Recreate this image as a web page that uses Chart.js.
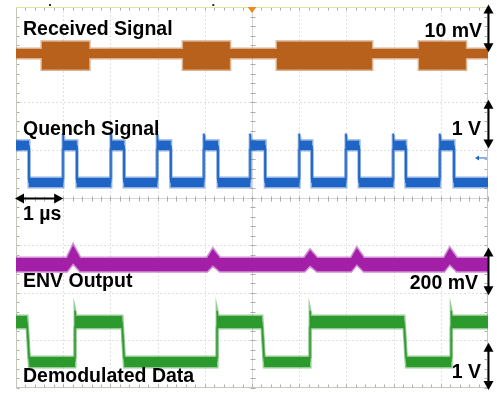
<!DOCTYPE html>
<html>
<head>
<meta charset="utf-8">
<script src="https://cdn.jsdelivr.net/npm/chart.js@4.4.1/dist/chart.umd.min.js"></script>
<style>
  html, body { margin: 0; padding: 0; background: #fff; }
  #wrap { width: 497px; height: 395px; position: relative; }
</style>
</head>
<body>
<div id="wrap"><canvas id="scope"></canvas></div>
<script>
// x: time in us (10 div of 1 us), y: screen divisions (0 = bottom, 8 = top)

// Received Signal (orange), state 1 = carrier burst
const rxEdges = [0, 0.55, 1.55, 3.54, 4.53, 5.53, 7.54, 8.54, 9.53, 10]
const rxState = [0, 1, 0, 1, 0, 1, 0, 1, 0]
const rxTop = [7.12, 7.27] // [quiet, burst]
const rxBot = [6.93, 6.69]

// Quench Signal (blue), state 1 = high
const qEdges = [0, 0.275, 0.996, 1.29, 2.01, 2.29, 2.99, 3.28, 3.98, 4.28, 4.96, 5.28, 6.0, 6.27, 6.99, 7.27, 7.99, 8.26, 8.98, 9.28, 10]
const qState = [1, 0, 1, 0, 1, 0, 1, 0, 1, 0, 1, 0, 1, 0, 1, 0, 1, 0, 1, 0]
const qTop = [4.41, 5.19]
const qMid = [4.31, 5.09]
const qBot = [4.22, 5.0]
const qSpike = 5.34

// ENV Output (magenta)
const envT =   [0, 1.08, 1.21, 1.36, 4.05, 4.17, 4.32, 6.11, 6.23, 6.38, 7.1, 7.22, 7.37, 9.07, 9.19, 9.34, 10]
const envTop = [2.73, 2.73, 3.0, 2.73, 2.73, 2.92, 2.73, 2.73, 2.9, 2.73, 2.73, 2.94, 2.73, 2.73, 2.94, 2.73, 2.73]
const envBot = [2.45, 2.45, 2.62, 2.45, 2.45, 2.58, 2.45, 2.45, 2.57, 2.45, 2.45, 2.6, 2.45, 2.45, 2.6, 2.45, 2.45]

// Demodulated Data (green), state 1 = high
const dEdges = [0, 0.233, 1.25, 2.246, 4.26, 5.21, 6.23, 8.22, 9.22, 10]
const dState = [1, 0, 1, 0, 1, 0, 1, 0, 1]
const dTop = [0.65, 1.51]
const dMid = [0.55, 1.39]
const dBot = [0.44, 1.26]
const dSpike = 1.62

const ORANGE = '#b8611c'
const BLUE = '#1f65c6'
const MAGENTA = '#a41fa8'
const GREEN = '#2c9a2c'

function fade(hex, a) {
  const n = parseInt(hex.slice(1), 16)
  return 'rgba(' + (n >> 16) + ',' + ((n >> 8) & 255) + ',' + (n & 255) + ',' + a + ')'
}

// step trace from edges/states; spike = overshoot on rising edge, fall = falling edge duration
function stepTrace(edges, state, levels, opt) {
  opt = opt || {}
  const pts = []
  const sw = 0.025
  for (let i = 0; i < state.length; i++) {
    const s = state[i]
    const v = levels[s]
    const t0 = edges[i]
    const t1 = edges[i + 1]
    const rising = i > 0 && s === 1 && state[i - 1] === 0
    const falling = i > 0 && s === 0 && state[i - 1] === 1
    if (rising && opt.spikeX) {
      pts.push({ x: t0, y: opt.spike != null ? opt.spike : v })
      pts.push({ x: t0 + sw, y: v })
    } else if (falling && opt.fall) {
      pts.push({ x: t0 + opt.fall, y: v })
    } else {
      pts.push({ x: t0, y: v })
    }
    pts.push({ x: t1, y: v })
  }
  return pts
}

// noisy trace drawn as a filled band with soft edges, plus a thin centre line for the edges
function band(label, color, top, bot, mid) {
  const sets = [
    { label: label + ' top', data: top, borderColor: fade(color, 0.5), borderWidth: 3, fill: false },
    { label: label + ' bottom', data: bot, borderColor: fade(color, 0.5), borderWidth: 3, backgroundColor: color, fill: '-1' },
  ]
  if (mid) sets.push({ label: label, data: mid, borderColor: color, borderWidth: 1, fill: false })
  return sets
}

const datasets = [
  ...band('Received Signal', ORANGE,
    stepTrace(rxEdges, rxState, rxTop),
    stepTrace(rxEdges, rxState, rxBot)),
  ...band('Quench Signal', BLUE,
    stepTrace(qEdges, qState, qTop, { spikeX: true, spike: qSpike }),
    stepTrace(qEdges, qState, qBot, { spikeX: true }),
    stepTrace(qEdges, qState, qMid, { spikeX: true, spike: qSpike })),
  ...band('ENV Output', MAGENTA,
    envT.map((t, i) => ({ x: t, y: envTop[i] })),
    envT.map((t, i) => ({ x: t, y: envBot[i] }))),
  ...band('Demodulated Data', GREEN,
    stepTrace(dEdges, dState, dTop, { spikeX: true, spike: dSpike, fall: 0.05 }),
    stepTrace(dEdges, dState, dBot, { spikeX: true, fall: 0.05 }),
    stepTrace(dEdges, dState, dMid, { spikeX: true, spike: dSpike, fall: 0.05 })),
]

function seg(ctx, x1, y1, x2, y2) {
  ctx.beginPath()
  ctx.moveTo(x1, y1)
  ctx.lineTo(x2, y2)
  ctx.stroke()
}

const scopeGrid = {
  id: 'scopeGrid',
  beforeDatasetsDraw(chart) {
    const { ctx, chartArea: a, scales: { x, y } } = chart
    const L = a.left + 0.5, R = a.right - 0.5, T = a.top + 0.5, B = a.bottom - 0.5
    ctx.save()
    ctx.lineWidth = 1
    // dotted division lines
    ctx.strokeStyle = '#c2c2c2'
    ctx.setLineDash([1, 3])
    for (let i = 1; i < 10; i++) {
      if (i === 5) continue
      const px = Math.round(x.getPixelForValue(i)) + 0.5
      seg(ctx, px, T, px, B)
    }
    for (let j = 1; j < 8; j++) {
      if (j === 4) continue
      const py = Math.round(y.getPixelForValue(j)) + 0.5
      seg(ctx, L, py, R, py)
    }
    // center lines with minor ticks
    ctx.strokeStyle = '#ababab'
    ctx.setLineDash([1, 1])
    const cx = Math.round(x.getPixelForValue(5)) + 0.5
    const cy = Math.round(y.getPixelForValue(4)) + 0.5
    seg(ctx, cx, T, cx, B)
    seg(ctx, L, cy, R, cy)
    ctx.setLineDash([])
    for (let k = 0; k <= 50; k++) {
      const px = Math.round(x.getPixelForValue(k / 5)) + 0.5
      seg(ctx, px, cy - 2, px, cy + 3)
      seg(ctx, px, T, px, T + 3)
      seg(ctx, px, B - 3, px, B)
    }
    for (let k = 0; k <= 40; k++) {
      const py = Math.round(y.getPixelForValue(k / 5)) + 0.5
      seg(ctx, cx - 2, py, cx + 3, py)
      seg(ctx, L, py, L + 3, py)
      seg(ctx, R - 3, py, R, py)
    }
    // frame
    ctx.strokeStyle = '#c4c8b8'
    ctx.strokeRect(L, T, R - L, B - T)
    ctx.strokeStyle = '#dde6a6'
    seg(ctx, L, T, R, T)
    ctx.restore()
  },
}

function vArrow(ctx, x, y1, y2) {
  ctx.lineWidth = 2
  seg(ctx, x, y1 + 6, x, y2 - 6)
  ctx.beginPath()
  ctx.moveTo(x, y1); ctx.lineTo(x - 5, y1 + 9); ctx.lineTo(x + 5, y1 + 9); ctx.closePath(); ctx.fill()
  ctx.beginPath()
  ctx.moveTo(x, y2); ctx.lineTo(x - 5, y2 - 9); ctx.lineTo(x + 5, y2 - 9); ctx.closePath(); ctx.fill()
}

function hArrow(ctx, x1, x2, y) {
  ctx.lineWidth = 2
  seg(ctx, x1 + 6, y, x2 - 6, y)
  ctx.beginPath()
  ctx.moveTo(x1, y); ctx.lineTo(x1 + 9, y - 5); ctx.lineTo(x1 + 9, y + 5); ctx.closePath(); ctx.fill()
  ctx.beginPath()
  ctx.moveTo(x2, y); ctx.lineTo(x2 - 9, y - 5); ctx.lineTo(x2 - 9, y + 5); ctx.closePath(); ctx.fill()
}

const scopeLabels = {
  id: 'scopeLabels',
  afterDraw(chart) {
    const { ctx, chartArea: a, scales: { x, y } } = chart
    ctx.save()
    // trigger position marker
    const tx = x.getPixelForValue(5)
    ctx.fillStyle = '#f08a1c'
    ctx.beginPath()
    ctx.moveTo(tx - 4.5, a.top); ctx.lineTo(tx + 4.5, a.top); ctx.lineTo(tx, a.top + 6); ctx.closePath(); ctx.fill()
    ctx.fillStyle = '#333'
    ctx.fillRect(x.getPixelForValue(0.72) - 1, a.top - 3, 2, 2)
    ctx.fillRect(x.getPixelForValue(4.18) - 1, a.top - 3, 2, 2)
    // quench ground marker
    ctx.strokeStyle = BLUE
    ctx.fillStyle = BLUE
    ctx.lineWidth = 1
    const gy = y.getPixelForValue(4.83)
    seg(ctx, a.right - 1, gy, a.right - 10, gy)
    ctx.beginPath()
    ctx.moveTo(a.right - 13, gy); ctx.lineTo(a.right - 9, gy - 2.5); ctx.lineTo(a.right - 9, gy + 2.5); ctx.closePath(); ctx.fill()

    // scale arrows
    ctx.strokeStyle = '#000'
    ctx.fillStyle = '#000'
    const ax = a.right + 0.5
    vArrow(ctx, ax, y.getPixelForValue(8.05), y.getPixelForValue(7.05))
    vArrow(ctx, ax, y.getPixelForValue(6.05), y.getPixelForValue(5.03))
    vArrow(ctx, ax, y.getPixelForValue(2.95), y.getPixelForValue(1.95))
    vArrow(ctx, ax, y.getPixelForValue(0.95), y.getPixelForValue(-0.04))
    hArrow(ctx, x.getPixelForValue(0) - 1, x.getPixelForValue(1), Math.round(y.getPixelForValue(4)) + 0.5)

    ctx.font = 'bold 19.5px "Liberation Sans", Arial, sans-serif'
    ctx.textBaseline = 'alphabetic'
    ctx.textAlign = 'left'
    ctx.fillText('Received Signal', 23, 35)
    ctx.fillText('Quench Signal', 23, 135)
    ctx.fillText('1 \u00b5s', 23, 220)
    ctx.fillText('ENV Output', 23, 287)
    ctx.fillText('Demodulated Data', 23, 382)
    ctx.textAlign = 'right'
    ctx.fillText('10 mV', 482, 37)
    ctx.fillText('1 V', 481, 135)
    ctx.fillText('200 mV', 478, 289)
    ctx.fillText('1 V', 481, 378)
    ctx.restore()
  },
}

new Chart(document.getElementById('scope'), {
  type: 'line',
  data: { datasets },
  options: {
    responsive: true,
    maintainAspectRatio: false,
    animation: false,
    layout: { padding: { left: 16, right: 9, top: 7, bottom: 7 } },
    plugins: { legend: { display: false }, tooltip: { enabled: false } },
    elements: { point: { radius: 0 }, line: { tension: 0 } },
    scales: {
      x: { type: 'linear', min: 0, max: 10, display: false },
      y: { type: 'linear', min: 0, max: 8, display: false },
    },
  },
  plugins: [scopeGrid, scopeLabels],
})
</script>
</body>
</html>
